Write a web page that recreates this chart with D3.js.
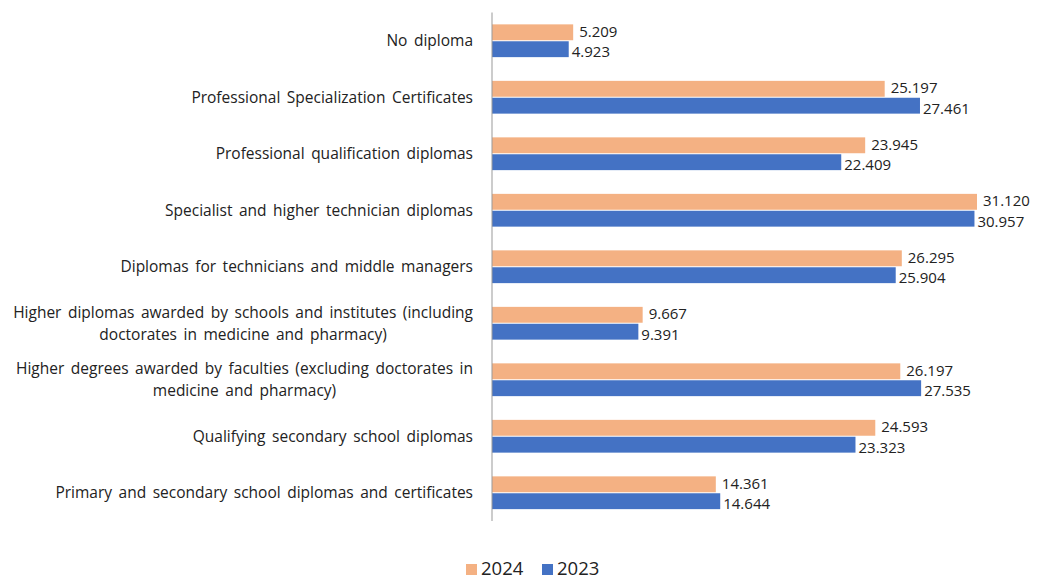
<!DOCTYPE html>
<html>
<head>
<meta charset="utf-8">
<script src="https://cdn.jsdelivr.net/npm/d3@7"></script>
<style>
  body { margin: 0; background: #fff; }
  text { font-family: "Open Sans", Lato, sans-serif; fill: #222; }
</style>
</head>
<body>
<svg id="chart" width="1039" height="579"></svg>
<script>
// categories, top to bottom (each may have 2 lines)
const categories = [
    ["No diploma"],
    ["Professional Specialization Certificates"],
    ["Professional qualification diplomas"],
    ["Specialist and higher technician diplomas"],
    ["Diplomas for technicians and middle managers"],
    ["Higher diplomas awarded by schools and institutes (including", "doctorates in medicine and pharmacy)"],
    ["Higher degrees awarded by faculties (excluding doctorates in", "medicine and pharmacy)"],
    ["Qualifying secondary school diplomas"],
    ["Primary and secondary school diplomas and certificates"]
];
const values2024 = [5.209, 25.197, 23.945, 31.120, 26.295, 9.667, 26.197, 24.593, 14.361];
const values2023 = [4.923, 27.461, 22.409, 30.957, 25.904, 9.391, 27.535, 23.323, 14.644];
const seriesNames = ["2024", "2023"];
const seriesColors = ["#F4B183", "#4472C4"];

const svg = d3.select('#chart');

const x = d3.scaleLinear().domain([0, 31.12]).range([492, 977]);
const y = d3.scaleBand().domain(d3.range(categories.length)).range([12.5, 521]).paddingInner(0.42).paddingOuter(0.21);
const sub = d3.scaleBand().domain([0, 1]).range([0, y.bandwidth()]).paddingInner(0.06);

const series = [values2024, values2023];

series.forEach((vals, s) => {
    svg.append('g').selectAll('rect')
        .data(vals)
        .enter().append('rect')
        .attr('x', x(0))
        .attr('y', (d, i) => y(i) + sub(s))
        .attr('width', d => x(d) - x(0))
        .attr('height', sub.bandwidth())
        .style('fill', seriesColors[s]);

    // value labels, nudged apart so the two don't collide
    svg.append('g').selectAll('text')
        .data(vals)
        .enter().append('text')
        .attr('x', d => x(d) + (s === 0 ? 6 : 3))
        .attr('y', (d, i) => y(i) + sub(s) + sub.bandwidth() / 2 + (s === 0 ? -1 : 2.5))
        .attr('dy', '0.36em')
        .style('font-size', '15px')
        .text(d => d.toFixed(3));
});

// vertical axis line
svg.append('line')
    .attr('x1', x(0)).attr('x2', x(0))
    .attr('y1', 12.5).attr('y2', 521)
    .style('stroke', '#999').style('stroke-width', 1);

// category labels: block right aligned, lines centred
const labelRight = 473;
categories.forEach((lines, i) => {
    const g = svg.append('g');
    const cy = y(i) + y.bandwidth() / 2;
    const lh = 22;
    const texts = lines.map((line, k) => g.append('text')
        .attr('y', cy + (k - (lines.length - 1) / 2) * lh)
        .attr('dy', '0.36em')
        .attr('text-anchor', 'middle')
        .style('font-size', '15.5px')
        .style('word-spacing', '2.5px')
        .text(line));
    const w = d3.max(texts, t => t.node().getComputedTextLength());
    texts.forEach(t => t.attr('x', labelRight - w / 2));
});

// legend
const legendX = [466, 542];
seriesNames.forEach((name, s) => {
    svg.append('rect')
        .attr('x', legendX[s]).attr('y', 564)
        .attr('width', 11).attr('height', 11)
        .style('fill', seriesColors[s]);
    svg.append('text')
        .attr('x', legendX[s] + 15).attr('y', 568)
        .attr('dy', '0.36em')
        .style('font-size', '18.5px')
        .text(name);
});
</script>
</body>
</html>
